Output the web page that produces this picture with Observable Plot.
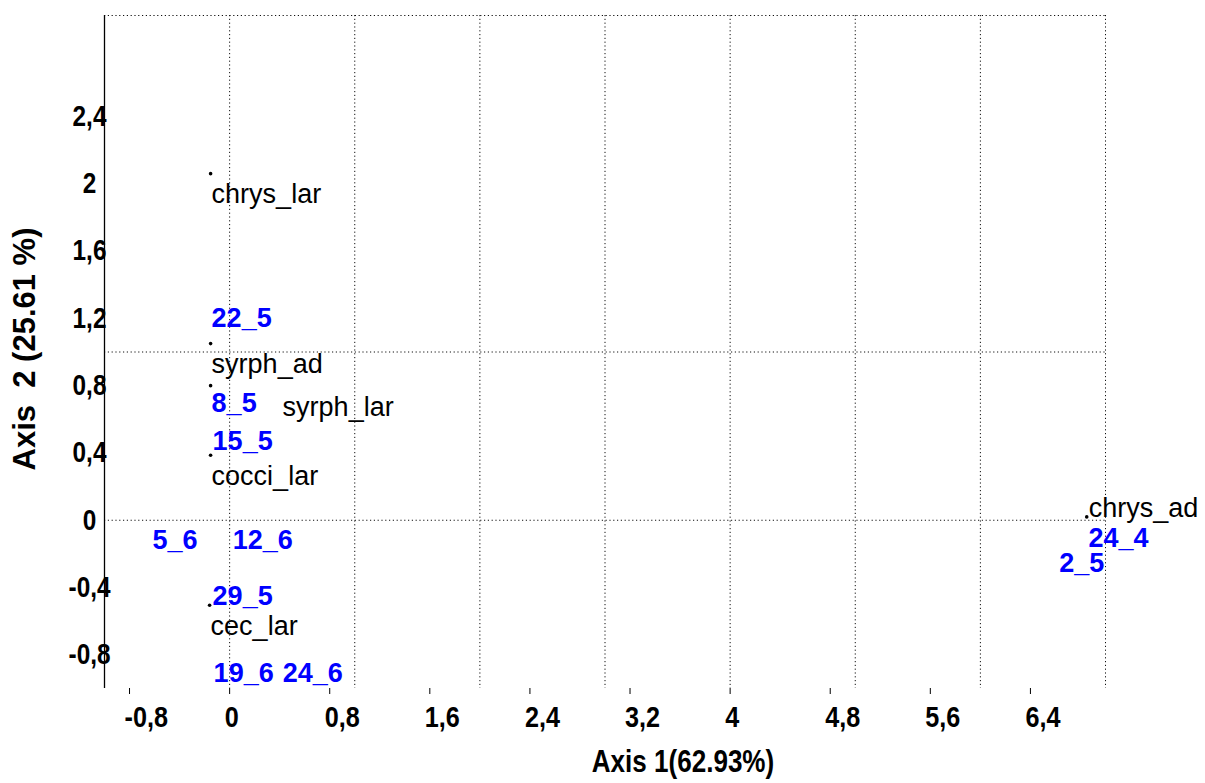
<!DOCTYPE html>
<html>
<head>
<meta charset="utf-8">
<script src="https://cdn.jsdelivr.net/npm/d3@7"></script>
<script src="https://cdn.jsdelivr.net/npm/@observablehq/plot@0.6"></script>
<style>
  html, body { margin: 0; padding: 0; background: #ffffff; }
  #chart { width: 1205px; height: 783px; overflow: hidden; }
</style>
</head>
<body>
<div id="chart"></div>
<script>
// ---- data ----
const speciesNames = ["chrys_lar", "syrph_ad", "syrph_lar", "cocci_lar", "cec_lar", "chrys_ad"];
const speciesX = [-0.152, -0.152, -0.152, -0.152, -0.16, 6.85];
const speciesY = [2.06, 1.05, 0.80, 0.386, -0.505, 0.02];

const dateNames = ["22_5", "8_5", "15_5", "5_6", "12_6", "29_5", "19_6", "24_6", "24_4", "2_5"];
const dateX = [-0.144, -0.144, -0.136, -0.616, 0.024, -0.136, -0.128, 0.424, 6.864, 6.63];
const dateY = [1.20, 0.695, 0.47, -0.119, -0.119, -0.45, -0.91, -0.91, -0.107, -0.257];

const xTicks = [-0.8, 0, 0.8, 1.6, 2.4, 3.2, 4, 4.8, 5.6, 6.4];
const yTicks = [-0.8, -0.4, 0, 0.4, 0.8, 1.2, 1.6, 2, 2.4];
const xGrid = [0, 1, 2, 3, 4, 5, 6, 7];
const yGrid = [0, 1, 3];
const xDomain = [-1, 7];
const yDomain = [-1, 3];
const xTitle = "Axis 1(62.93%)";
const yTitle = "Axis  2 (25.61 %)";

// ---- tables ----
const species = speciesNames.map((name, i) => ({name, x: speciesX[i], y: speciesY[i]}));
const dates = dateNames.map((name, i) => ({name, x: dateX[i], y: dateY[i]}));
const fmt = d => String(Math.round(d * 10) / 10).replace(".", ",");

const sans = "'Liberation Sans', Arial, sans-serif";
const grid = {stroke: "#111", strokeWidth: 1, strokeDasharray: "1.2,2.6"};

const below = species.filter(d => d.name !== "syrph_lar" && d.name !== "chrys_ad");
const shifted = species.filter(d => d.name === "syrph_lar");
const right = species.filter(d => d.name === "chrys_ad");
const labelStyle = {x: "x", y: "y", text: "name", fill: "black", textAnchor: "start", fontSize: 27, fontFamily: sans};

const chart = Plot.plot({
  width: 1205,
  height: 783,
  marginLeft: 104,
  marginRight: 100,
  marginTop: 15,
  marginBottom: 95,
  x: {domain: xDomain},
  y: {domain: yDomain},
  style: {background: "#ffffff", color: "black", fontFamily: sans},
  marks: [
    Plot.ruleX(xGrid, grid),
    Plot.ruleY(yGrid, grid),
    Plot.ruleX([xDomain[0]], {stroke: "black", strokeWidth: 1.3}),
    // tick marks
    Plot.axisX({ticks: xTicks, tickFormat: () => "", tickSize: 6, label: null, stroke: "black"}),
    // tick labels
    Plot.axisX({ticks: xTicks, tickFormat: fmt, tickSize: 0, tickPadding: 17, textAnchor: "start", dx: -5,
      fontSize: 30, fontWeight: "bold", fontFamily: sans, label: null, className: "narrow"}),
    Plot.axisY({ticks: yTicks, tickFormat: fmt, tickSize: 0, tickPadding: 15, textAnchor: "middle",
      fontSize: 29, fontWeight: "bold", fontFamily: sans, label: null, className: "narrow"}),
    Plot.dot(species, {x: "x", y: "y", r: 1.8, fill: "black", stroke: "none"}),
    Plot.text(below, {...labelStyle, dx: 1, dy: 21}),
    Plot.text(shifted, {...labelStyle, dx: 72, dy: 22}),
    Plot.text(right, {...labelStyle, dx: 2, dy: -9}),
    Plot.text(dates, {x: "x", y: "y", text: "name", fill: "#0000ff", textAnchor: "start", fontSize: 27, fontWeight: "bold", fontFamily: sans}),
    Plot.text([xTitle], {text: d => d, frameAnchor: "bottom", textAnchor: "middle", lineAnchor: "middle", dx: 78, dy: 74,
      fontSize: 31, fontWeight: "bold", fontFamily: sans, className: "narrow"}),
    Plot.text([yTitle], {text: d => d, frameAnchor: "left", textAnchor: "middle", lineAnchor: "middle", rotate: -90, dx: -79, dy: -3,
      fontSize: 31, fontWeight: "bold", fontFamily: sans})
  ]
});
document.getElementById("chart").appendChild(chart);

// condense the axis lettering (the original uses a narrow face)
chart.querySelectorAll("g.narrow text, text.narrow").forEach(t => {
  const len = t.getComputedTextLength();
  if (len > 0) {
    t.setAttribute("textLength", (len * 0.84).toFixed(2));
    t.setAttribute("lengthAdjust", "spacingAndGlyphs");
  }
});
</script>
</body>
</html>
